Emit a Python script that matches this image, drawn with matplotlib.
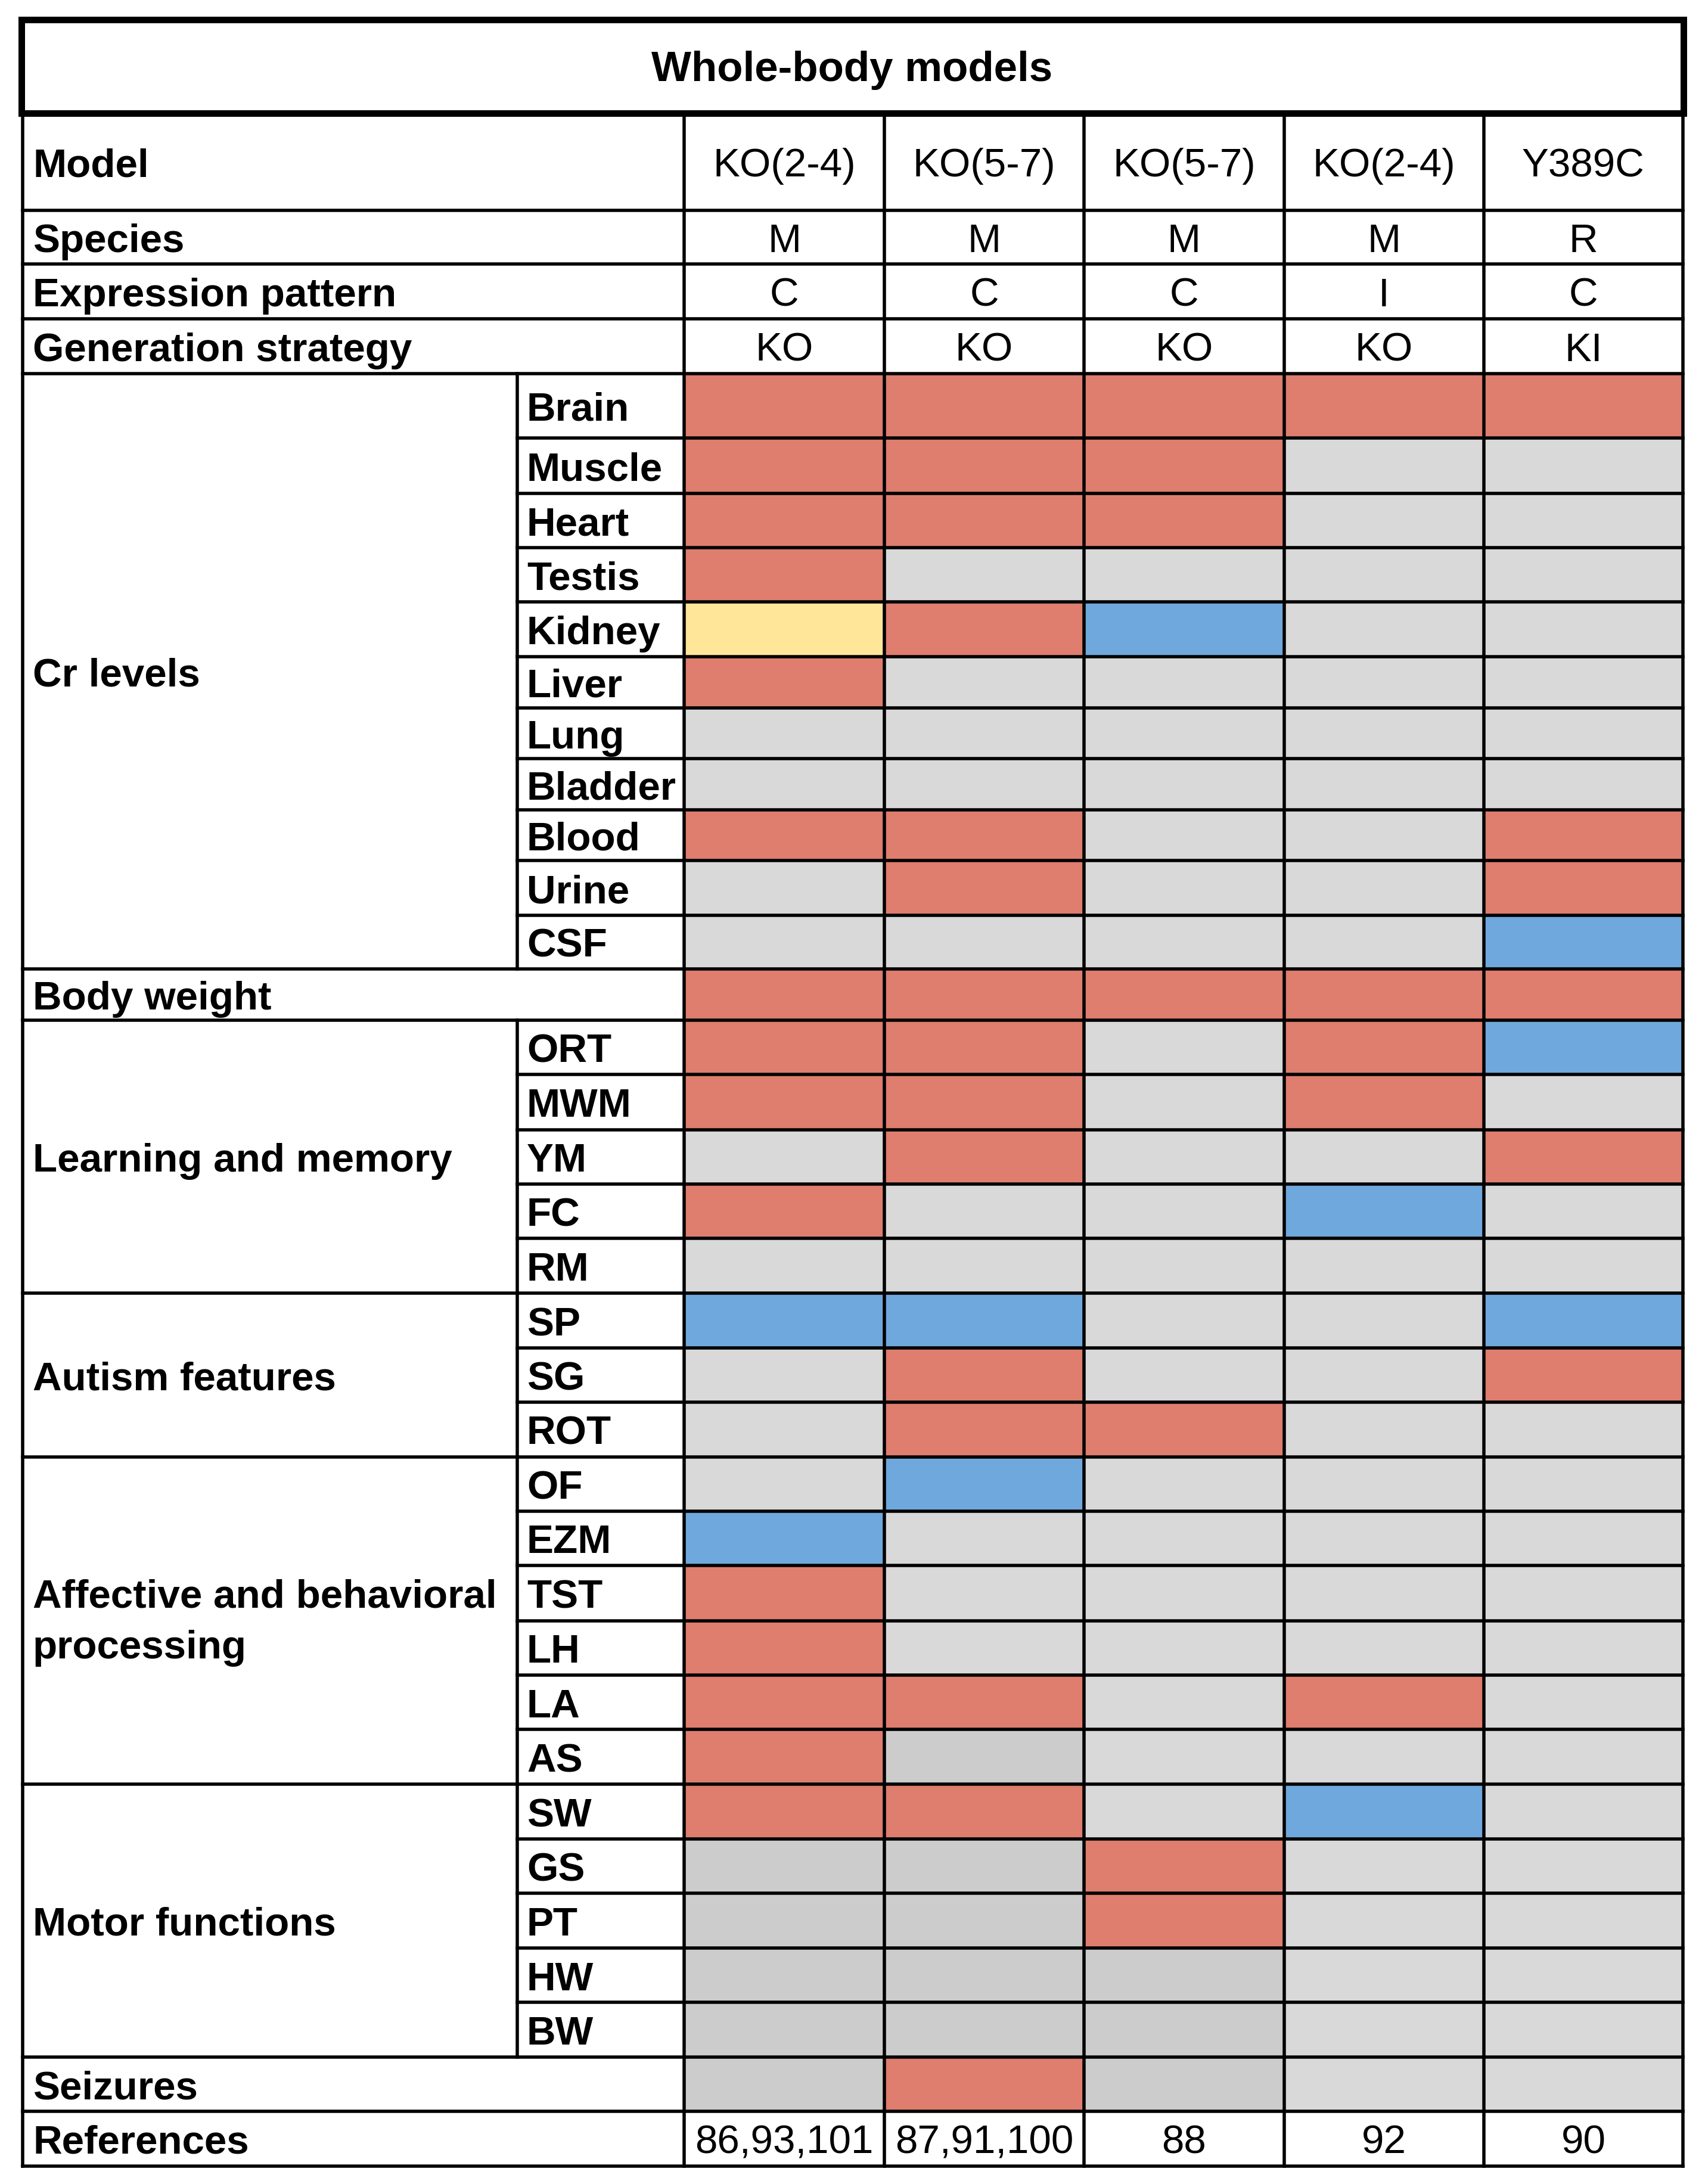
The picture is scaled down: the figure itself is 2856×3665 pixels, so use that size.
import matplotlib
matplotlib.use("Agg")
import matplotlib.pyplot as plt
from matplotlib.patches import Rectangle

# ---------------- data ----------------
title = "Whole-body models"
header_labels = ["Model", "Species", "Expression pattern", "Generation strategy"]
models = ["KO(2-4)", "KO(5-7)", "KO(5-7)", "KO(2-4)", "Y389C"]
species = ["M", "M", "M", "M", "R"]
expression = ["C", "C", "C", "I", "C"]
strategy = ["KO", "KO", "KO", "KO", "KI"]
references = ["86,93,101", "87,91,100", "88", "92", "90"]

group_names = ["Cr levels", "Body weight", "Learning and memory", "Autism features",
               "Affective and behavioral\nprocessing", "Motor functions", "Seizures"]
cr_levels = ["Brain", "Muscle", "Heart", "Testis", "Kidney", "Liver", "Lung",
             "Bladder", "Blood", "Urine", "CSF"]
learning = ["ORT", "MWM", "YM", "FC", "RM"]
autism = ["SP", "SG", "ROT"]
affective = ["OF", "EZM", "TST", "LH", "LA", "AS"]
motor = ["SW", "GS", "PT", "HW", "BW"]

# status codes per cell (one letter per model):
# R = red, B = blue, Y = yellow, G = light grey, D = darker grey
cr_status = ["RRRRR", "RRRGG", "RRRGG", "RGGGG", "YRBGG", "RGGGG", "GGGGG",
             "GGGGG", "RRGGR", "GRGGR", "GGGGB"]
bw_status = ["RRRRR"]
learning_status = ["RRGRB", "RRGRG", "GRGGR", "RGGBG", "GGGGG"]
autism_status = ["BBGGB", "GRGGR", "GRRGG"]
affective_status = ["GBGGG", "BGGGG", "RGGGG", "RGGGG", "RRGRG", "RDGGG"]
motor_status = ["RRGBG", "DDRGG", "DDRGG", "DDDGG", "DDDGG"]
seizure_status = ["DRDGG"]

status_colors = {"R": "#DF7D6E", "B": "#6FA8DC", "Y": "#FFE699",
                 "G": "#D9D9D9", "D": "#CCCCCC"}

# ---------------- layout (pixels) ----------------
W, H = 2856, 3665
x_left, x_sub, x_right = 38, 868, 2824
col_edges = [1148, 1484, 1819, 2155, 2490, 2824]
title_box = (35.5, 32.5, 2824.5, 190)
header_edges = [190, 353, 443, 535, 627]
body_edges = [627, 735, 828, 919, 1010, 1102, 1188, 1273, 1359, 1444, 1536, 1626,
              1712, 1803, 1896, 1987, 2078, 2170, 2262, 2353, 2445, 2536, 2627,
              2720, 2811, 2902, 2994, 3086, 3177, 3269, 3360, 3452, 3543, 3635]
LW = 5.5 * 72 / 100
LW_T = 11 * 72 / 100
FS = 48.5
FONT = "Liberation Sans"
BASE = 25  # baseline offset below row center
LINE = 85  # line pitch for two-line labels

fig = plt.figure(figsize=(W / 100, H / 100), dpi=100)
ax = fig.add_axes([0, 0, 1, 1])
ax.set_xlim(0, W)
ax.set_ylim(H, 0)
ax.axis("off")


def hline(y, x0, x1, lw=LW):
    ax.plot([x0, x1], [y, y], color="black", lw=lw, solid_capstyle="projecting", zorder=3)


def vline(x, y0, y1, lw=LW):
    ax.plot([x, x], [y0, y1], color="black", lw=lw, solid_capstyle="projecting", zorder=3)


def label(x, y0, y1, s, bold=True, ha="left"):
    lines = s.split("\n")
    n = len(lines)
    for i, ln in enumerate(lines):
        off = (i - (n - 1) / 2) * LINE - (4 if n > 1 else 0)
        ax.text(x, (y0 + y1) / 2 + BASE + off, ln, fontsize=FS, family=FONT,
                fontweight="bold" if bold else "normal", ha=ha, va="baseline", zorder=4)


centers = [(col_edges[i] + col_edges[i + 1]) / 2 for i in range(len(models))]

# title
tx0, ty0, tx1, ty1 = title_box
ax.add_patch(Rectangle((tx0, ty0), tx1 - tx0, ty1 - ty0, fill=False, lw=LW_T,
                       edgecolor="black", zorder=5))
ax.text((tx0 + tx1) / 2, (ty0 + ty1) / 2 + BASE, title, fontsize=51, family=FONT,
        fontweight="bold", ha="center", va="baseline")

# header rows
header_values = [models, species, expression, strategy]
for i, (lab, vals) in enumerate(zip(header_labels, header_values)):
    y0, y1 = header_edges[i], header_edges[i + 1]
    label(55, y0, y1, lab)
    for c, v in zip(centers, vals):
        label(c, y0, y1, v, bold=False, ha="center")
    if i > 0:
        hline(y0, x_left, x_right)

# body
sections = [
    (group_names[0], cr_levels, cr_status),
    (group_names[1], None, bw_status),
    (group_names[2], learning, learning_status),
    (group_names[3], autism, autism_status),
    (group_names[4], affective, affective_status),
    (group_names[5], motor, motor_status),
    (group_names[6], None, seizure_status),
]
r = 0
for name, subs, stat in sections:
    n = len(stat)
    g0, g1 = body_edges[r], body_edges[r + n]
    hline(g0, x_left, x_right)
    label(55, g0, g1, name)
    if subs is not None:
        vline(x_sub, g0, g1)
    for k in range(n):
        y0, y1 = body_edges[r + k], body_edges[r + k + 1]
        for j, code in enumerate(stat[k]):
            ax.add_patch(Rectangle((col_edges[j], y0), col_edges[j + 1] - col_edges[j],
                                   y1 - y0, facecolor=status_colors[code],
                                   edgecolor="none", zorder=1))
        if subs is not None:
            label(884, y0, y1, subs[k])
            if k > 0:
                hline(y0, x_sub, x_right)
    r += n

# references row
y0, y1 = body_edges[r], body_edges[r + 1]
hline(y0, x_left, x_right)
label(55, y0, y1, "References")
for c, v in zip(centers, references):
    label(c, y0, y1, v, bold=False, ha="center")
hline(y1, x_left, x_right)

# vertical lines
top, bottom = header_edges[0], body_edges[-1]
vline(x_left, top, bottom)
vline(x_right, top, bottom)
for x in col_edges[:-1]:
    vline(x, top, bottom)

fig.savefig("out.png", dpi=100, facecolor="white")
